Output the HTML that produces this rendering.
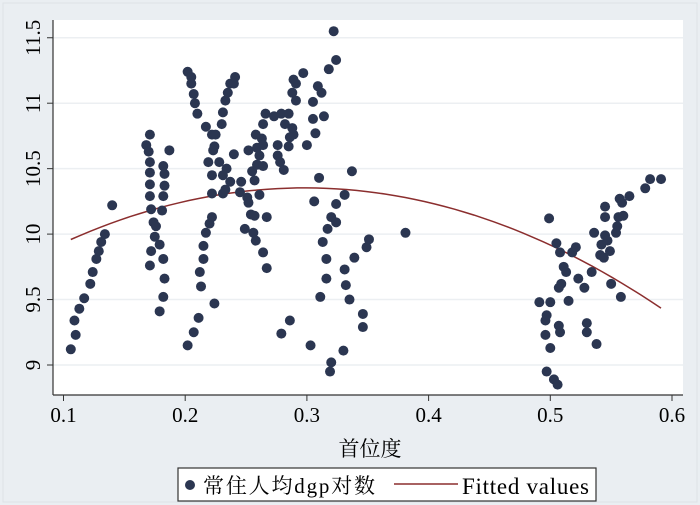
<!DOCTYPE html>
<html><head><meta charset="utf-8"><style>
body{margin:0;background:#eaeef2;}
svg{display:block;font-family:"Liberation Serif","Noto Serif CJK SC",serif;}
</style></head><body>
<svg id="chart" width="700" height="505">
<rect x="0" y="0" width="700" height="505" fill="#eaeef2"/>
<rect x="3" y="3" width="694" height="499" fill="#eaeef2" stroke="#dde2e7"/>
<rect x="53" y="20" width="630" height="375" fill="#ffffff"/>
<g id="grid"></g><g id="axes"></g><g id="fit"></g><g id="pts"></g>
<text x="370" y="456" font-size="21" text-anchor="middle">首位度</text>
<g>
<rect x="178" y="468" width="418" height="33" fill="#fff" stroke="#333" stroke-width="1.2"/>
<circle cx="190" cy="485" r="5" fill="#2b3651"/>
<text x="203" y="493" font-size="21" textLength="172">常住人均dgp对数</text>
<line x1="394" y1="484" x2="458" y2="484" stroke="#8b2e2e" stroke-width="1.5"/>
<text x="462" y="494" font-size="23" textLength="127">Fitted values</text>
</g>
</svg>
<script>
const xs=[0.106,0.110,0.109,0.113,0.117,0.122,0.124,0.127,0.129,0.131,0.134,0.140,
0.168,0.171,0.170,0.171,0.171,0.171,0.171,0.172,0.172,0.171,0.174,0.176,0.175,
0.182,0.183,0.183,0.182,0.181,0.179,0.182,0.183,0.182,0.179,0.187,
0.202,0.207,0.211,0.213,0.212,0.215,0.215,0.217,0.220,0.222,0.222,
0.202,0.205,0.205,0.207,0.208,0.210,0.217,0.222,0.225,0.224,0.223,0.219,0.222,0.224,
0.231,0.233,0.231,0.234,0.228,0.230,0.231,0.233,0.235,0.237,0.240,0.241,0.240,0.237,0.246,0.245,
0.252,0.255,0.257,0.251,0.252,0.254,0.257,0.249,0.256,0.258,0.264,0.267,0.267,0.261,
0.258,0.263,0.259,0.264,0.261,0.259,0.264,0.264,0.266,0.273,0.279,0.285,0.282,0.276,0.276,0.278,0.281,0.285,0.286,0.289,0.288,
0.289,0.291,0.288,0.291,0.297,0.300,0.279,0.286,0.303,0.306,0.310,
0.322,0.324,0.318,0.309,0.312,0.305,0.305,0.314,0.307,
0.324,0.331,0.337,0.320,0.324,0.317,0.313,0.316,0.316,0.311,0.320,0.319,0.330,0.331,0.332,0.335,
0.339,0.349,0.351,0.346,0.346,0.381,
0.499,0.491,0.500,0.497,0.496,0.496,0.500,0.497,0.503,0.506,0.507,0.508,0.505,0.508,0.511,0.513,0.509,0.507,0.515,0.518,0.521,0.523,0.528,0.530,0.530,0.538,0.534,0.536,0.541,0.544,0.542,0.545,0.547,0.549,0.554,0.555,0.556,0.560,0.545,0.545,0.550,0.558,0.557,0.559,0.565,0.578,0.582,0.591];
const ys=[9.12,9.23,9.34,9.43,9.51,9.62,9.71,9.81,9.87,9.94,10.00,10.22,
10.68,10.76,10.63,10.55,10.47,10.38,10.29,10.19,9.87,9.76,10.09,10.06,9.98,
10.52,10.46,10.37,10.29,10.18,9.92,9.81,9.66,9.52,9.41,10.64,
9.15,9.25,9.36,9.60,9.71,9.81,9.91,10.01,10.08,10.13,10.31,
11.24,11.20,11.15,11.07,11.00,10.92,10.82,10.76,10.76,10.67,10.64,10.55,10.45,9.47,
10.31,10.34,10.45,10.50,10.55,10.84,10.93,11.02,11.08,11.15,11.15,11.20,10.61,10.40,10.40,10.32,
10.64,10.48,10.41,10.28,10.24,10.15,10.14,10.04,10.01,9.95,9.86,9.74,10.13,10.30,
10.76,10.73,10.66,10.68,10.60,10.53,10.52,10.84,10.92,10.90,10.92,10.92,10.84,10.68,10.60,10.55,10.49,10.67,10.74,10.76,10.81,
11.18,11.15,11.08,11.02,11.23,10.68,9.24,9.34,9.15,10.25,10.43,
11.55,11.33,11.26,11.13,11.08,11.01,10.88,10.90,10.77,
10.23,10.30,10.48,10.13,10.09,10.04,9.94,9.81,9.66,9.52,9.02,8.95,9.11,9.73,9.61,9.50,
9.82,9.90,9.96,9.39,9.29,10.01,
10.12,9.48,9.48,9.38,9.34,9.23,9.13,8.95,8.89,8.85,9.30,9.25,9.93,9.86,9.75,9.71,9.62,9.59,9.49,9.86,9.90,9.66,9.59,9.32,9.25,9.16,9.71,10.01,9.84,9.82,9.92,9.99,9.95,9.87,10.01,10.06,10.13,10.14,10.13,10.21,9.62,9.52,10.27,10.24,10.29,10.35,10.42,10.42];
const xTicks=[0.1,0.2,0.3,0.4,0.5,0.6];
const yTicks=[9,9.5,10,10.5,11,11.5];
const yTickLabels=["9","9.5","10","10.5","11","11.5"];
const fitCoef=[-10.7,0.298,10.353]; // a, vertex x, vertex y
const fitRange=[0.106,0.591];
const NS="http://www.w3.org/2000/svg";
function sx(v){return 63.5+(v-0.1)*1217;}
function sy(v){return 365-(v-9)*130.9;}
function mk(tag,attrs,parent){const e=document.createElementNS(NS,tag);for(const k in attrs)e.setAttribute(k,attrs[k]);parent.appendChild(e);return e;}
const grid=document.getElementById('grid'),axes=document.getElementById('axes'),fit=document.getElementById('fit'),pts=document.getElementById('pts');
yTicks.forEach((t,i)=>{
 const g=mk('line',{x1:53,x2:683,y1:sy(t),y2:sy(t),stroke:'#eceff2','stroke-width':1.5},grid);
 
 
 const tk=mk('line',{x1:47,x2:53,y1:sy(t),y2:sy(t),stroke:'#333'},axes);
 
 
 const y=sy(t);
 const tx=mk('text',{x:0,y:0,'font-size':21,'text-anchor':'middle',transform:`translate(40,${y}) rotate(-90)`},axes);
 tx.textContent=yTickLabels[i];
 
 
});
xTicks.forEach(t=>{
 const tk=mk('line',{x1:sx(t),x2:sx(t),y1:395,y2:401,stroke:'#333'},axes);
 
 
 const tx=mk('text',{x:sx(t),y:422,'font-size':21,'text-anchor':'middle'},axes);
 tx.textContent=String(t);
 
 
});
const xa=mk('line',{x1:53,x2:683,y1:395,y2:395,stroke:'#333','stroke-width':1.2},axes);


const ya=mk('line',{x1:53,x2:53,y1:20,y2:395,stroke:'#333','stroke-width':1.2},axes);


let d='';
for(let i=0;i<=60;i++){const x=fitRange[0]+(fitRange[1]-fitRange[0])*i/60;const y=fitCoef[0]*(x-fitCoef[1])**2+fitCoef[2];d+=(i?'L':'M')+sx(x).toFixed(1)+','+sy(y).toFixed(1);}
const fl=mk('path',{d:d,fill:'none',stroke:'#8b2e2e','stroke-width':1.5},fit);


xs.forEach((x,i)=>{
 const c=mk('circle',{cx:sx(x),cy:sy(ys[i]),r:5,fill:'#2b3651'},pts);
 
 
});
</script>
</body></html>
